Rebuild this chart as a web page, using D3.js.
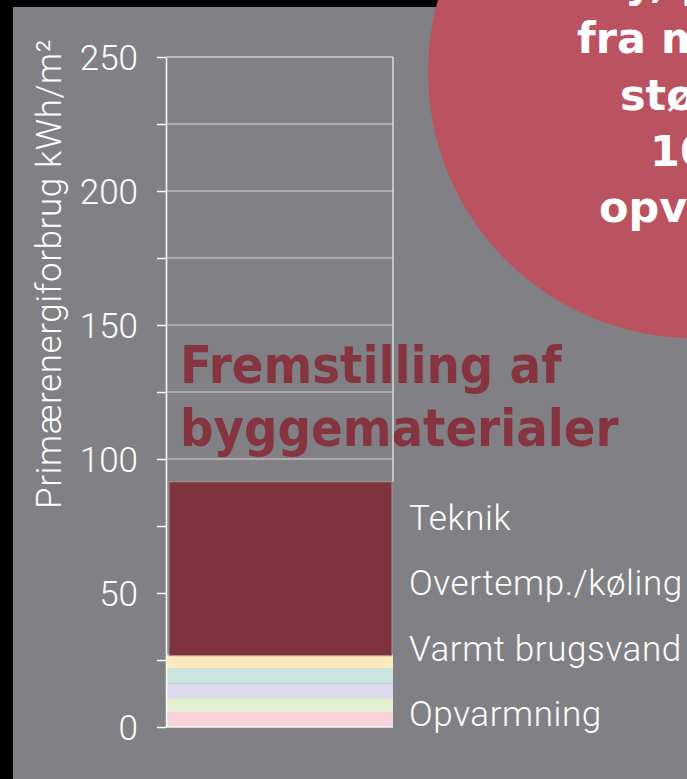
<!DOCTYPE html>
<html>
<head>
<meta charset="utf-8">
<script src="https://cdn.jsdelivr.net/npm/d3@7"></script>
<style>
  body { margin: 0; overflow: hidden; background: #000; }
  svg { display: block; }
  .light { font-family: Roboto, "Liberation Sans", sans-serif; font-weight: 300; fill: #fff; }
</style>
</head>
<body>
<div id="chart"></div>
<script>
// stacked stripes at the foot of the bar, bottom first
var stackKeys = ["Opvarmning", "Varmt brugsvand", "Overtemp./køling", "Teknik", "Øvrigt"];
var stackValues = [5.6, 5.2, 5.4, 5.8, 5.2];
var stackColors = ["#f8d3dc", "#e3efd0", "#dcd9ec", "#c9e5e0", "#fde9bb"];

// the big block: materials
var materialLabel = ["Fremstilling af", "byggematerialer"];
var materialRange = [26.6, 91.5];

var legendLabels = ["Opvarmning", "Varmt brugsvand", "Overtemp./køling", "Teknik"];

var yTicks = [0, 25, 50, 75, 100, 125, 150, 175, 200, 225, 250];
var yTitle = "Primærenergiforbrug kWh/m²";

// text in the red bubble (cut off by the slide edge)
var circleLines = ["y, primær", "fra materialer", "større", "100 år", "opvarmning"];
var circleStarts = [625, 577, 620, 650, 599];

var W = 687, H = 779;

function getMargin(){
  return {top: 57, bottom: 52, left: 166, right: 294};
}

var svg = d3.select("#chart").append("svg")
  .attr("width", W).attr("height", H);

// slide frame
svg.append("rect").attr("width", W).attr("height", H).style("fill", "#000");
svg.append("rect").attr("x", 13).attr("y", 7).attr("width", W - 13).attr("height", H - 7)
  .style("fill", "#818085");

var margin = getMargin();
var y = d3.scaleLinear().domain([0, 250]).range([H - margin.bottom, margin.top]);
var x = d3.scaleBand().domain(["bar"]).range([margin.left + 1, W - margin.right]);

// materials title (sits under the grid lines)
svg.append("g").selectAll("text")
  .data(materialLabel)
  .enter().append("text")
    .attr("x", 180)
    .attr("y", function(d, i){ return 383 + i * 63 })
    .style("font-family", "'DejaVu Sans Condensed', 'DejaVu Sans', sans-serif")
    .style("font-weight", "bold")
    .style("font-stretch", "condensed")
    .style("font-size", "52px")
    .style("fill", "#853440")
    .text(function(d){ return d });

// grid + frame
var grid = svg.append("g");
grid.selectAll("line.grid")
  .data(yTicks.filter(function(d){ return d > materialRange[1] && d < 250 }))
  .enter().append("line")
    .attr("class", "grid")
    .attr("x1", margin.left).attr("x2", x.range()[1])
    .attr("y1", function(d){ return y(d) }).attr("y2", function(d){ return y(d) })
    .style("stroke", "#d6d6d6").style("stroke-width", 1);

grid.append("line")
  .attr("x1", margin.left).attr("x2", x.range()[1])
  .attr("y1", y(250)).attr("y2", y(250))
  .style("stroke", "#f2f2f2").style("stroke-width", 1);
grid.append("line")
  .attr("x1", x.range()[1]).attr("x2", x.range()[1])
  .attr("y1", y(250)).attr("y2", y(materialRange[1]))
  .style("stroke", "#f2f2f2").style("stroke-width", 1.2);

// stripes
var stackRow = {};
stackKeys.forEach(function(k, i){ stackRow[k] = stackValues[i] });
var series = d3.stack().keys(stackKeys)([stackRow]);

svg.append("g").selectAll("rect")
  .data(series)
  .enter().append("rect")
    .attr("x", x("bar"))
    .attr("width", x.bandwidth())
    .attr("y", function(d){ return y(d[0][1]) })
    .attr("height", function(d){ return y(d[0][0]) - y(d[0][1]) })
    .style("fill", function(d, i){ return stackColors[i] });

// materials block
svg.append("rect")
  .attr("x", x("bar") + 2)
  .attr("width", x.bandwidth() - 3)
  .attr("y", y(materialRange[1]))
  .attr("height", y(materialRange[0]) - y(materialRange[1]))
  .style("fill", "#7f333d")
  .style("stroke", "#9a9a9e").style("stroke-width", 1);

// baseline
svg.append("line")
  .attr("x1", margin.left).attr("x2", x.range()[1])
  .attr("y1", y(0)).attr("y2", y(0))
  .style("stroke", "#f2f2f2").style("stroke-width", 1.5);

// axis
var axis = svg.append("g")
  .attr("transform", "translate(" + margin.left + ",0)")
  .call(d3.axisLeft(y).tickValues(yTicks).tickSize(9).tickSizeOuter(0).tickPadding(19)
    .tickFormat(function(d){ return d % 50 === 0 ? d : "" }));
axis.select(".domain").style("stroke", "#fff").style("stroke-width", 1.5);
axis.selectAll(".tick line").style("stroke", "#fff").style("stroke-width", 1.5);
axis.selectAll(".tick text")
  .attr("class", "light")
  .attr("dy", "0.36em")
  .style("font-size", "35px");

svg.append("text")
  .attr("class", "light")
  .attr("transform", "translate(61,274) rotate(-90)")
  .attr("text-anchor", "middle")
  .style("font-size", "35px")
  .style("letter-spacing", "0.6px")
  .text(yTitle);

// legend labels
svg.append("g").selectAll("text")
  .data(legendLabels)
  .enter().append("text")
    .attr("class", "light")
    .attr("x", 409)
    .attr("y", function(d, i){ return y(0) - 1 - i * 65.5 })
    .style("font-size", "35px")
    .style("letter-spacing", "0.6px")
    .text(function(d){ return d });

// red bubble
svg.append("circle")
  .attr("cx", 694).attr("cy", 72).attr("r", 266)
  .style("fill", "#bb525f");

svg.append("g").selectAll("text")
  .data(circleLines)
  .enter().append("text")
    .attr("x", function(d, i){ return circleStarts[i] })
    .attr("y", function(d, i){ return -3 + i * 56.3 })
    .style("font-family", "'DejaVu Sans', sans-serif")
    .style("font-weight", "bold")
    .style("font-size", "43px")
    .style("fill", "#fff")
    .text(function(d){ return d });
</script>
</body>
</html>
